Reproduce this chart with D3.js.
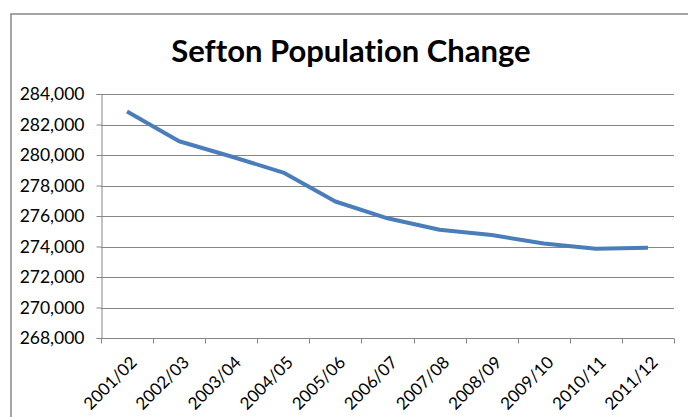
<!DOCTYPE html>
<html>
<head>
<meta charset="utf-8">
<script src="https://cdn.jsdelivr.net/npm/d3@7"></script>
<style>
  html, body { margin: 0; padding: 0; background: #fff; }
  svg { display: block; }
  text { font-variant-ligatures: none; font-feature-settings: "liga" 0; }
</style>
</head>
<body>
<svg id="chart" width="688" height="417"></svg>
<script>
// Sefton population by financial year
const years = ["2001/02", "2002/03", "2003/04", "2004/05", "2005/06", "2006/07",
               "2007/08", "2008/09", "2009/10", "2010/11", "2011/12"];
const population = [282850, 280900, 279900, 278850, 276950, 275850,
                    275100, 274750, 274200, 273850, 273920];
const yTicks = [268000, 270000, 272000, 274000, 276000, 278000, 280000, 282000, 284000];
const chartTitle = "Sefton Population Change";

const W = 688, H = 417;
const plot = { left: 101, right: 674, top: 94, bottom: 338 };
const font = "Lato, 'Open Sans', sans-serif";
const grey = "#868686";
const lineColor = "#4a7ebb";

const svg = d3.select("#chart");

// chart frame
svg.append("rect")
  .attr("x", 11).attr("y", 14)
  .attr("width", W + 20).attr("height", H + 20)
  .attr("fill", "#fff")
  .attr("stroke", grey).attr("stroke-width", 1.5);

// title
svg.append("text")
  .attr("x", 351).attr("y", 62)
  .attr("text-anchor", "middle")
  .attr("font-family", font)
  .attr("font-weight", "bold")
  .attr("font-size", 31)
  .attr("fill", "#000")
  .text(chartTitle);

const x = d3.scaleBand().domain(years).range([plot.left, plot.right]).paddingInner(0).paddingOuter(0);
const y = d3.scaleLinear().domain([268000, 284000]).range([plot.bottom, plot.top]);

// horizontal gridlines
svg.append("g")
  .selectAll("line")
  .data(yTicks.filter(v => v !== 268000))
  .join("line")
  .attr("x1", plot.left).attr("x2", plot.right)
  .attr("y1", d => Math.round(y(d)) + 0.5).attr("y2", d => Math.round(y(d)) + 0.5)
  .attr("stroke", grey).attr("stroke-width", 1);

// y axis
const yAxis = d3.axisLeft(y)
  .tickValues(yTicks)
  .tickSize(5)
  .tickPadding(12)
  .tickFormat(d3.format(","));
const gy = svg.append("g")
  .attr("transform", `translate(${plot.left + 0.5},0)`)
  .call(yAxis);
gy.select(".domain").attr("stroke", grey);
gy.selectAll(".tick line").attr("stroke", grey);
gy.selectAll(".tick text")
  .attr("font-family", font).attr("font-size", 17.5).attr("fill", "#000");

// x axis: ticks sit on category boundaries
const gx = svg.append("g").attr("transform", `translate(0,${plot.bottom + 0.5})`);
gx.append("line")
  .attr("x1", plot.left).attr("x2", plot.right)
  .attr("stroke", grey);
const bounds = years.map(d => x(d)).concat([plot.right]);
gx.selectAll("line.tick")
  .data(bounds)
  .join("line")
  .attr("class", "tick")
  .attr("x1", d => Math.round(d) + 0.5).attr("x2", d => Math.round(d) + 0.5)
  .attr("y1", 0).attr("y2", 5)
  .attr("stroke", grey);
gx.selectAll("text")
  .data(years)
  .join("text")
  .attr("transform", d => `translate(${x(d) + x.bandwidth() / 2 + 11},${25}) rotate(-45)`)
  .attr("text-anchor", "end")
  .attr("font-family", font)
  .attr("font-size", 17)
  .attr("fill", "#000")
  .text(d => d);

// population line
const line = d3.line()
  .x((d, i) => x(years[i]) + x.bandwidth() / 2)
  .y(d => y(d));
svg.append("path")
  .datum(population)
  .attr("d", line)
  .attr("fill", "none")
  .attr("stroke", lineColor)
  .attr("stroke-width", 4)
  .attr("stroke-linejoin", "round")
  .attr("stroke-linecap", "butt");
</script>
</body>
</html>
